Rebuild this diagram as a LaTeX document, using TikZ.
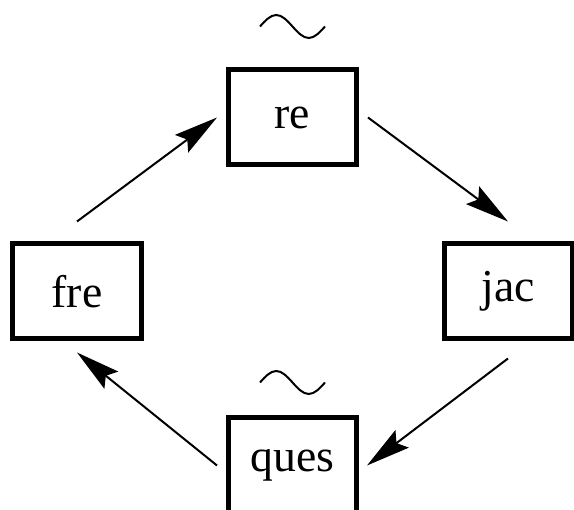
\documentclass[tikz,border=0pt]{standalone}
\usepackage{fontspec}
\setmainfont{Liberation Serif}
\usetikzlibrary{arrows.meta,positioning}

\tikzset{
    stage/.style={draw,line width=0.1cm,minimum width=2.56cm,minimum height=1.9cm,
        font=\fontsize{26}{31}\selectfont},
    flow/.style={line width=0.04cm,-{Stealth[length=0.88cm,width=0.44cm,inset=0.14cm]}},
    wave/.style={line width=0.04cm}
}

\begin{document}
\begin{tikzpicture}
    \useasboundingbox (0,0) rectangle (11.48,10.2);

    % Stages
    \node[stage] (re)   at (5.85,7.85) {re};
    \node[stage] (fre)  at (1.54,4.37) {fre};
    \node[stage] (jac)  at (10.16,4.37) {jac};
    \node[stage] (ques) at (5.85,0.89) {ques};

    % Cycle
    \draw[flow] ([yshift=0.4cm]fre.north) -- ([xshift=-0.18cm]re.west);
    \draw[flow] ([xshift=0.18cm]re.east) -- ([yshift=0.4cm]jac.north);
    \draw[flow] ([yshift=-0.34cm]jac.south) -- ([xshift=0.16cm]ques.east);
    \draw[flow] ([xshift=-0.18cm]ques.west) -- ([yshift=-0.22cm]fre.south);

    % Tildes
    \draw[wave] ([shift={(-0.65cm,0.82cm)}]re.north) sin ++(0.325,0.23) cos ++(0.325,-0.23)
        sin ++(0.325,-0.23) cos ++(0.325,0.23);
    \draw[wave] ([shift={(-0.65cm,0.66cm)}]ques.north) sin ++(0.325,0.23) cos ++(0.325,-0.23)
        sin ++(0.325,-0.23) cos ++(0.325,0.23);
\end{tikzpicture}
\end{document}
